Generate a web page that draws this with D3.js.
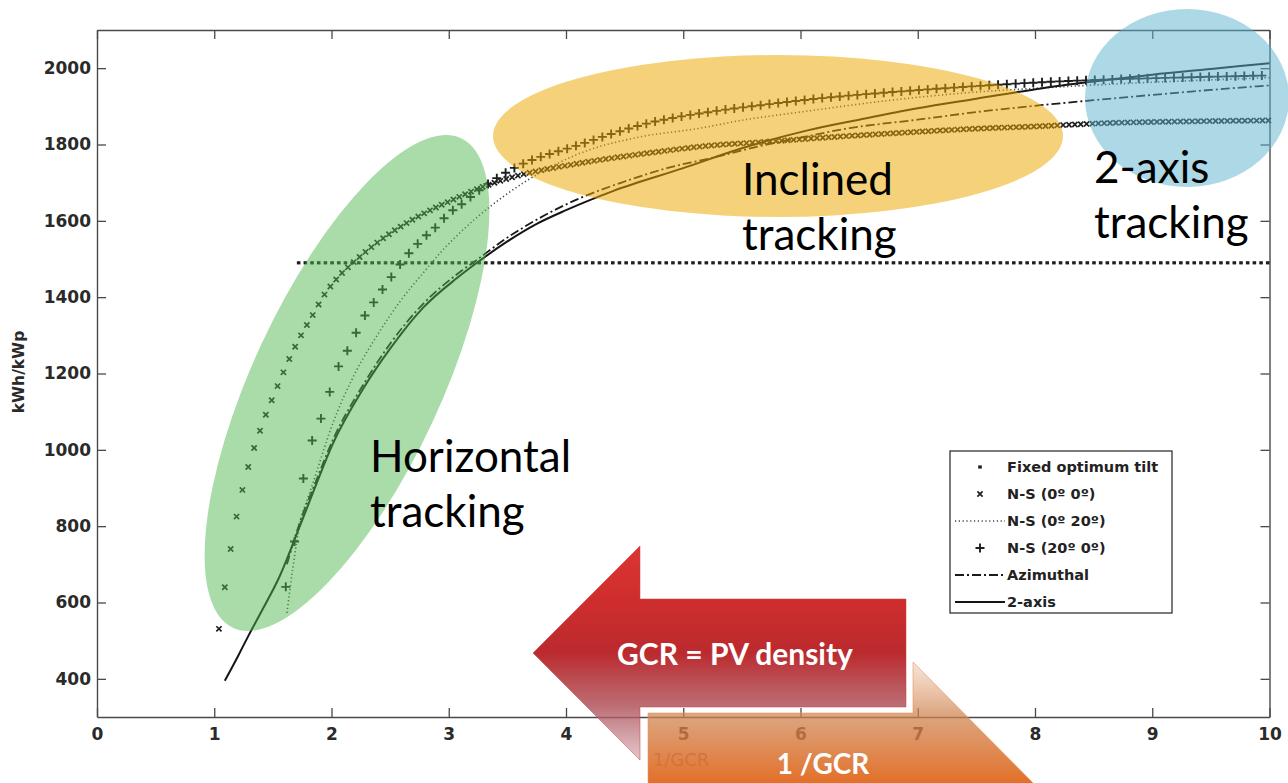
<!DOCTYPE html>
<html><head><meta charset="utf-8">
<script src="https://cdn.jsdelivr.net/npm/d3@7"></script>
<style>body{margin:0;background:#fff}svg{display:block}</style>
</head><body>
<svg id="c" width="1288" height="783"></svg>
<script>
// ---------- data ----------
const xTicks = [0,1,2,3,4,5,6,7,8,9,10];
const yTicks = [400,600,800,1000,1200,1400,1600,1800,2000];

const fixedX = [1.72, 3, 5, 7, 10];
const fixedY = [1490, 1490, 1490, 1490, 1490];

const ns00X = [1.04,1.09,1.14,1.19,1.24,1.29,1.34,1.39,1.44,1.49,1.54,1.59,1.64,1.69,1.74,1.79,1.84,1.93,2.05,2.22,2.39,2.50,2.78,3.07,3.24,3.55,4.12,4.69,5.26,5.66,6.20,6.77,7.40,8.05,8.60,9.20,10.0];
const ns00Y = [531,640,740,825,895,955,1005,1050,1092,1130,1167,1203,1238,1270,1300,1327,1353,1402,1450,1500,1543,1567,1618,1660,1683,1715,1751,1777,1798,1806,1818,1829,1840,1848,1856,1860,1863];

const ns020X = [1.62,1.67,1.73,1.80,1.86,2.00,2.20,2.40,2.59,2.80,2.93,3.10,3.24,3.45,3.67,4.12,4.60,5.15,5.49,6.00,6.77,7.40,7.99,9.00,10.0];
const ns020Y = [573,690,806,875,930,1060,1200,1305,1391,1470,1517,1570,1609,1660,1706,1777,1818,1843,1863,1885,1916,1935,1947,1963,1975];

const ns200X = [1.61,1.71,1.76,1.83,1.93,2.00,2.07,2.16,2.23,2.30,2.39,2.47,2.54,2.62,2.70,2.78,2.86,2.93,2.99,3.07,3.13,3.18,3.52,4.12,4.69,5.26,5.66,6.20,6.77,7.40,8.05,8.60,9.30,10.0];
const ns200Y = [641,809,925,1019,1098,1166,1226,1273,1320,1360,1399,1436,1465,1501,1528,1554,1575,1596,1617,1635,1648,1661,1732,1800,1855,1887,1903,1922,1937,1951,1963,1970,1976,1981];

const azX = [1.62,1.73,1.86,2.01,2.27,2.50,2.78,3.07,3.24,3.50,3.75,4.10,4.50,4.86,5.26,5.60,6.00,6.42,7.00,7.50,8.05,8.50,9.00,9.50,10.0];
const azY = [700,810,912,1025,1170,1278,1382,1460,1498,1556,1603,1657,1703,1738,1766,1792,1818,1843,1865,1885,1903,1916,1930,1943,1955];

const twoX = [1.09,1.20,1.29,1.40,1.56,1.73,1.86,2.01,2.27,2.50,2.78,3.07,3.24,3.50,3.75,4.00,4.40,5.00,5.50,6.06,6.50,7.00,7.50,8.05,8.50,9.00,9.50,10.0];
const twoY = [395,458,512,575,670,800,902,1015,1160,1265,1372,1450,1490,1546,1592,1628,1678,1738,1790,1837,1865,1895,1920,1947,1965,1983,1998,2013];

const legendLabels = ["Fixed optimum tilt","N-S (0º 0º)","N-S (0º 20º)","N-S (20º 0º)","Azimuthal","2-axis"];

// ---------- setup ----------
const svg = d3.select("#c");
const x = d3.scaleLinear().domain([0,10]).range([97,1269.5]);
const y = d3.scaleLinear().domain([300,2100]).range([717,30]);
const zip = (a,b)=>a.map((v,i)=>[v,b[i]]);
const line = d3.line().x(d=>x(d[0])).y(d=>y(d[1])).curve(d3.curveMonotoneX);

const axisCol = "#4a4a4a";
function styleAxis(g){
  g.selectAll(".domain").attr("stroke",axisCol).attr("stroke-width",1.4);
  g.selectAll(".tick line").attr("stroke",axisCol).attr("stroke-width",1.3);
  g.selectAll("text").attr("font-family","DejaVu Sans").attr("font-weight","bold")
    .attr("font-size",17).attr("fill","#2a2a2a");
}
svg.append("g").attr("transform","translate(0,717)")
  .call(d3.axisBottom(x).tickValues(xTicks).tickFormat(d3.format("d")).tickSize(-9).tickSizeOuter(0).tickPadding(11))
  .call(styleAxis);
svg.append("g").attr("transform","translate(97,0)")
  .call(d3.axisLeft(y).tickValues(yTicks).tickFormat(d3.format("d")).tickSize(-9).tickSizeOuter(0).tickPadding(6))
  .call(styleAxis);
svg.append("g").attr("transform","translate(1269.5,0)")
  .call(d3.axisRight(y).tickValues(yTicks).tickFormat("").tickSize(-9).tickSizeOuter(0))
  .call(styleAxis);
svg.append("g").attr("transform","translate(0,30)")
  .call(d3.axisTop(x).tickValues(xTicks).tickFormat("").tickSize(-9).tickSizeOuter(0))
  .call(styleAxis);

svg.append("text").attr("transform","translate(24,372) rotate(-90)")
  .attr("text-anchor","middle").attr("font-family","DejaVu Sans").attr("font-weight","bold")
  .attr("font-size",15.5).attr("fill","#2a2a2a").text("kWh/kWp");
svg.append("text").attr("x",681).attr("y",766).attr("text-anchor","middle")
  .attr("font-family","DejaVu Sans").attr("font-size",18).attr("fill","#777").text("1/GCR");

// ---------- lines ----------
const plot = svg.append("g");
plot.append("path").attr("d",line(zip(ns020X,ns020Y))).attr("fill","none")
  .attr("stroke","#444").attr("stroke-width",1.6).attr("stroke-dasharray","1.2 2.6");
plot.append("path").attr("d",line(zip(azX,azY))).attr("fill","none")
  .attr("stroke","#1a1a1a").attr("stroke-width",1.8).attr("stroke-dasharray","9 3 2 3");
plot.append("path").attr("d",line(zip(twoX,twoY))).attr("fill","none")
  .attr("stroke","#151515").attr("stroke-width",2);

// marker series: markers placed along the drawn curve at a regular horizontal pitch
function markersAlong(xs, ys, start, step, draw){
  const p = plot.append("path").attr("d",line(zip(xs,ys))).attr("fill","none").attr("stroke","none");
  const node = p.node(), L = node.getTotalLength(), N = Math.ceil(L*3);
  const pts = d3.range(N+1).map(i=>node.getPointAtLength(L*i/N));
  const bis = d3.bisector(d=>d.x).left;
  const end = xs[xs.length-1];
  const g = plot.append("g");
  for (let v = start; v <= end+1e-9; v += step){
    const px = x(v); let j = Math.max(1, Math.min(pts.length-1, bis(pts, px)));
    const a = pts[j-1], b = pts[j]; const t = b.x===a.x?0:(px-a.x)/(b.x-a.x);
    draw(g, px, a.y + t*(b.y-a.y));
  }
}
const mk = {
  fixed:(g,cx,cy)=>g.append("rect").attr("x",cx-1.8).attr("y",cy-1.6).attr("width",3.6).attr("height",3.2).attr("fill","#1e1e1e"),
  cross:(g,cx,cy)=>g.append("path").attr("d",`M${cx-2.6},${cy-2.6}L${cx+2.6},${cy+2.6}M${cx-2.6},${cy+2.6}L${cx+2.6},${cy-2.6}`).attr("stroke","#1e1e1e").attr("stroke-width",1.7).attr("fill","none"),
  plus:(g,cx,cy)=>g.append("path").attr("d",`M${cx-4.5},${cy}H${cx+4.5}M${cx},${cy-4.5}V${cy+4.5}`).attr("stroke","#1e1e1e").attr("stroke-width",1.9).attr("fill","none")
};
markersAlong(fixedX, fixedY, 1.72, 0.057, mk.fixed);
markersAlong(ns00X, ns00Y, 1.04, 0.05, mk.cross);
markersAlong(ns200X, ns200Y, 1.61, 0.075, mk.plus);

// ---------- highlight overlays ----------
svg.append("ellipse").attr("cx",347).attr("cy",383).attr("rx",270).attr("ry",94)
  .attr("transform","rotate(-65,347,383)").attr("fill","rgba(82,184,82,0.49)");
svg.append("ellipse").attr("cx",778).attr("cy",136).attr("rx",285).attr("ry",81)
  .attr("fill","rgba(235,168,0,0.52)");
svg.append("ellipse").attr("cx",1187).attr("cy",98).attr("rx",102).attr("ry",89)
  .attr("fill","rgba(92,178,206,0.5)");

// ---------- annotation texts ----------
function label(lines, x0, y0){
  const t = svg.append("text").attr("font-family","Lato").attr("font-size",44).attr("fill","#000");
  lines.forEach((s,i)=>t.append("tspan").attr("x",x0).attr("y",y0+i*55).text(s));
}
label(["Horizontal","tracking"],370,472);
label(["Inclined","tracking"],742,195);
label(["2-axis","tracking"],1094,183);

// ---------- legend ----------
const lg = svg.append("g");
lg.append("rect").attr("x",950).attr("y",451).attr("width",222).attr("height",162)
  .attr("fill","#fff").attr("stroke","#333").attr("stroke-width",1.3);
const rowY = d3.range(6).map(i=>467+i*27);
legendLabels.forEach((s,i)=>{
  lg.append("text").attr("x",1007).attr("y",rowY[i]).attr("dy","0.36em")
    .attr("font-family","DejaVu Sans").attr("font-weight","bold").attr("font-size",14.5)
    .attr("fill","#222").text(s);
});
mk.fixed(lg,980,rowY[0]);
mk.cross(lg,980,rowY[1]);
lg.append("line").attr("x1",955).attr("x2",1005).attr("y1",rowY[2]).attr("y2",rowY[2])
  .attr("stroke","#444").attr("stroke-width",1.6).attr("stroke-dasharray","1.2 2.6");
mk.plus(lg,980,rowY[3]);
lg.append("line").attr("x1",955).attr("x2",1005).attr("y1",rowY[4]).attr("y2",rowY[4])
  .attr("stroke","#1a1a1a").attr("stroke-width",1.8).attr("stroke-dasharray","9 3 2 3");
lg.append("line").attr("x1",955).attr("x2",1005).attr("y1",rowY[5]).attr("y2",rowY[5])
  .attr("stroke","#151515").attr("stroke-width",2);

// ---------- arrows ----------
const defs = svg.append("defs");
const gr = defs.append("linearGradient").attr("id","gRed").attr("gradientUnits","userSpaceOnUse")
  .attr("x1",0).attr("x2",0).attr("y1",546).attr("y2",760);
[[0,"#dc3535",1],[0.25,"#cf2d2d",1],[0.5,"#bb2a2e",1],[0.75,"#b0545c",0.85],[1,"#c0808a",0.45]]
  .forEach(s=>gr.append("stop").attr("offset",s[0]).attr("stop-color",s[1]).attr("stop-opacity",s[2]));
const go = defs.append("linearGradient").attr("id","gOr").attr("gradientUnits","userSpaceOnUse")
  .attr("x1",0).attr("x2",0).attr("y1",662).attr("y2",790);
[[0,"#e6a27a",0.3],[0.4,"#cf8450",0.72],[1,"#e4691e",1]]
  .forEach(s=>go.append("stop").attr("offset",s[0]).attr("stop-color",s[1]).attr("stop-opacity",s[2]));

svg.append("path").attr("d","M648,713L913,713L913,662L1040,790L913,918L913,867L648,867Z")
  .attr("fill","url(#gOr)").attr("stroke","#e89462").attr("stroke-opacity",0.6).attr("stroke-width",1);
svg.append("path").attr("d","M533,653L640,546L640,599L906,599L906,707L640,707L640,760Z")
  .attr("fill","url(#gRed)").attr("stroke","#c84040").attr("stroke-opacity",0.5).attr("stroke-width",1);

svg.append("text").attr("x",735).attr("y",665).attr("text-anchor","middle")
  .attr("font-family","Lato").attr("font-weight","bold").attr("font-size",30).attr("fill","#fff")
  .text("GCR = PV density");
svg.append("text").attr("x",823).attr("y",774).attr("text-anchor","middle")
  .attr("font-family","Lato").attr("font-weight","bold").attr("font-size",28).attr("fill","#fff")
  .text("1 /GCR");
</script>
</body></html>
